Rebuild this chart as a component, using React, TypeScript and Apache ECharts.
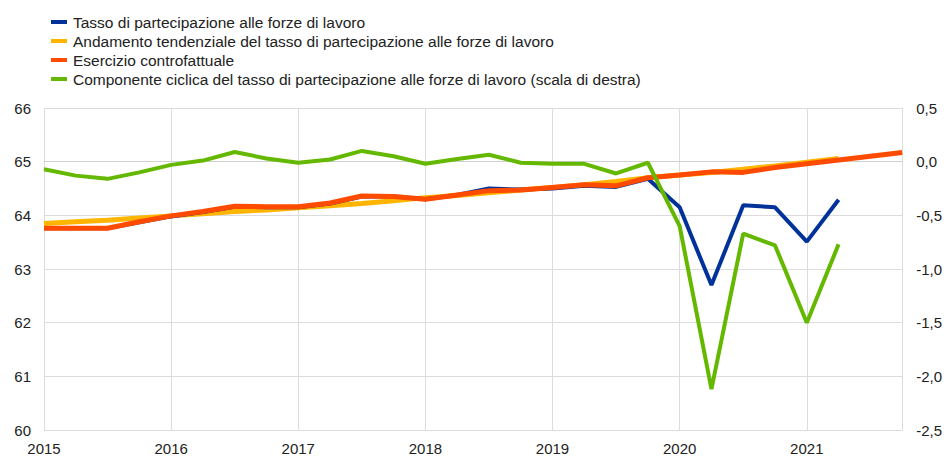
import React, { useEffect, useRef } from "react";
import * as echarts from "echarts";

const years = ["2015", "2016", "2017", "2018", "2019", "2020", "2021"];
const quarters: string[] = [];
years.forEach((y) => ["T1", "T2", "T3", "T4"].forEach((q) => quarters.push(y + " " + q)));

const participation = [
  63.76, 63.76, 63.76, 63.87,
  63.98, 64.06, 64.16, 64.15,
  64.15, 64.22, 64.35, 64.35,
  64.3, 64.38, 64.5, 64.48,
  64.5, 64.55, 64.53, 64.68,
  64.15, 62.7, 64.19, 64.15,
  63.51, 64.29,
];

const trend = [
  63.85, 63.88, 63.91, 63.95,
  63.99, 64.03, 64.07, 64.1,
  64.14, 64.18, 64.22, 64.27,
  64.33, 64.37, 64.42, 64.47,
  64.52, 64.57, 64.63, 64.7,
  64.75, 64.8, 64.86, 64.92,
  64.99, 65.06,
];

const counterfactual = [
  63.76, 63.76, 63.76, 63.88,
  63.99, 64.07, 64.17, 64.16,
  64.16, 64.23, 64.36, 64.35,
  64.3, 64.38, 64.46, 64.47,
  64.52, 64.57, 64.55, 64.7,
  64.75, 64.81, 64.8, 64.89,
  64.96, 65.03, 65.1, 65.17,
];

const cyclical = [
  -0.07, -0.13, -0.16, -0.1,
  -0.03, 0.01, 0.09, 0.03,
  -0.01, 0.02, 0.1, 0.05,
  -0.02, 0.025, 0.065, -0.01,
  -0.02, -0.02, -0.11, -0.01,
  -0.6, -2.12, -0.67, -0.78,
  -1.5, -0.77,
];

const names = [
  "Tasso di partecipazione alle forze di lavoro",
  "Andamento tendenziale del tasso di partecipazione alle forze di lavoro",
  "Esercizio controfattuale",
  "Componente ciclica del tasso di partecipazione alle forze di lavoro (scala di destra)",
];

const FONT = "Liberation Sans, Arial, sans-serif";

export default function App() {
  const ref = useRef<HTMLDivElement>(null);
  useEffect(() => {
    if (!ref.current) return;
    const chart = echarts.init(ref.current, undefined, { renderer: "svg" });
    chart.setOption({
      animation: false,
      textStyle: { fontFamily: FONT },
      legend: {
        orient: "vertical",
        left: 46,
        top: 9,
        itemWidth: 16,
        itemHeight: 4,
        itemGap: 3,
        icon: "rect",
        data: names,
        textStyle: { fontSize: 15.5, lineHeight: 16, color: "#222", fontFamily: FONT, padding: [0, 0, 0, 1] },
      },
      grid: { left: 44, right: 40, top: 108, bottom: 27, containLabel: false },
      xAxis: {
        type: "category",
        data: quarters,
        boundaryGap: false,
        axisTick: { show: false },
        axisLine: { show: true, lineStyle: { color: "#d0d0d0", width: 1 } },
        axisLabel: {
          interval: (i: number) => i % 4 === 0,
          formatter: (v: string) => v.slice(0, 4),
          fontSize: 15,
          color: "#222",
          margin: 11,
          fontFamily: FONT,
        },
        splitLine: {
          show: true,
          interval: (i: number) => i % 4 === 0,
          lineStyle: { color: "#dcdcdc", width: 1 },
        },
      },
      yAxis: [
        {
          type: "value",
          min: 60,
          max: 66,
          interval: 1,
          axisLine: { show: false },
          axisTick: { show: false },
          axisLabel: { fontSize: 15, color: "#222", margin: 13, fontFamily: FONT },
          splitLine: { show: true, lineStyle: { color: "#dcdcdc", width: 1 } },
        },
        {
          type: "value",
          min: -2.5,
          max: 0.5,
          interval: 0.5,
          position: "right",
          axisLine: { show: true, lineStyle: { color: "#dcdcdc", width: 1 } },
          axisTick: { show: false },
          axisLabel: {
            fontSize: 15,
            color: "#222",
            margin: 14,
            align: "left",
            fontFamily: FONT,
            formatter: (v: number) => v.toFixed(1).replace(".", ","),
          },
          splitLine: { show: false },
        },
      ],
      series: [
        {
          name: names[1],
          type: "line",
          data: trend,
          symbol: "none",
          lineStyle: { color: "#FFB400", width: 5 },
          itemStyle: { color: "#FFB400" },
        },
        {
          name: names[0],
          type: "line",
          data: participation,
          symbol: "none",
          lineStyle: { color: "#003299", width: 4 },
          itemStyle: { color: "#003299" },
        },
        {
          name: names[2],
          type: "line",
          data: counterfactual,
          symbol: "none",
          lineStyle: { color: "#FF4B00", width: 5 },
          itemStyle: { color: "#FF4B00" },
        },
        {
          name: names[3],
          type: "line",
          yAxisIndex: 1,
          data: cyclical,
          symbol: "none",
          lineStyle: { color: "#65B800", width: 4 },
          itemStyle: { color: "#65B800" },
        },
      ],
    });
    return () => chart.dispose();
  }, []);
  return <div ref={ref} style={{ width: 945, height: 457, position: "absolute", left: 0, top: 0 }} />;
}
